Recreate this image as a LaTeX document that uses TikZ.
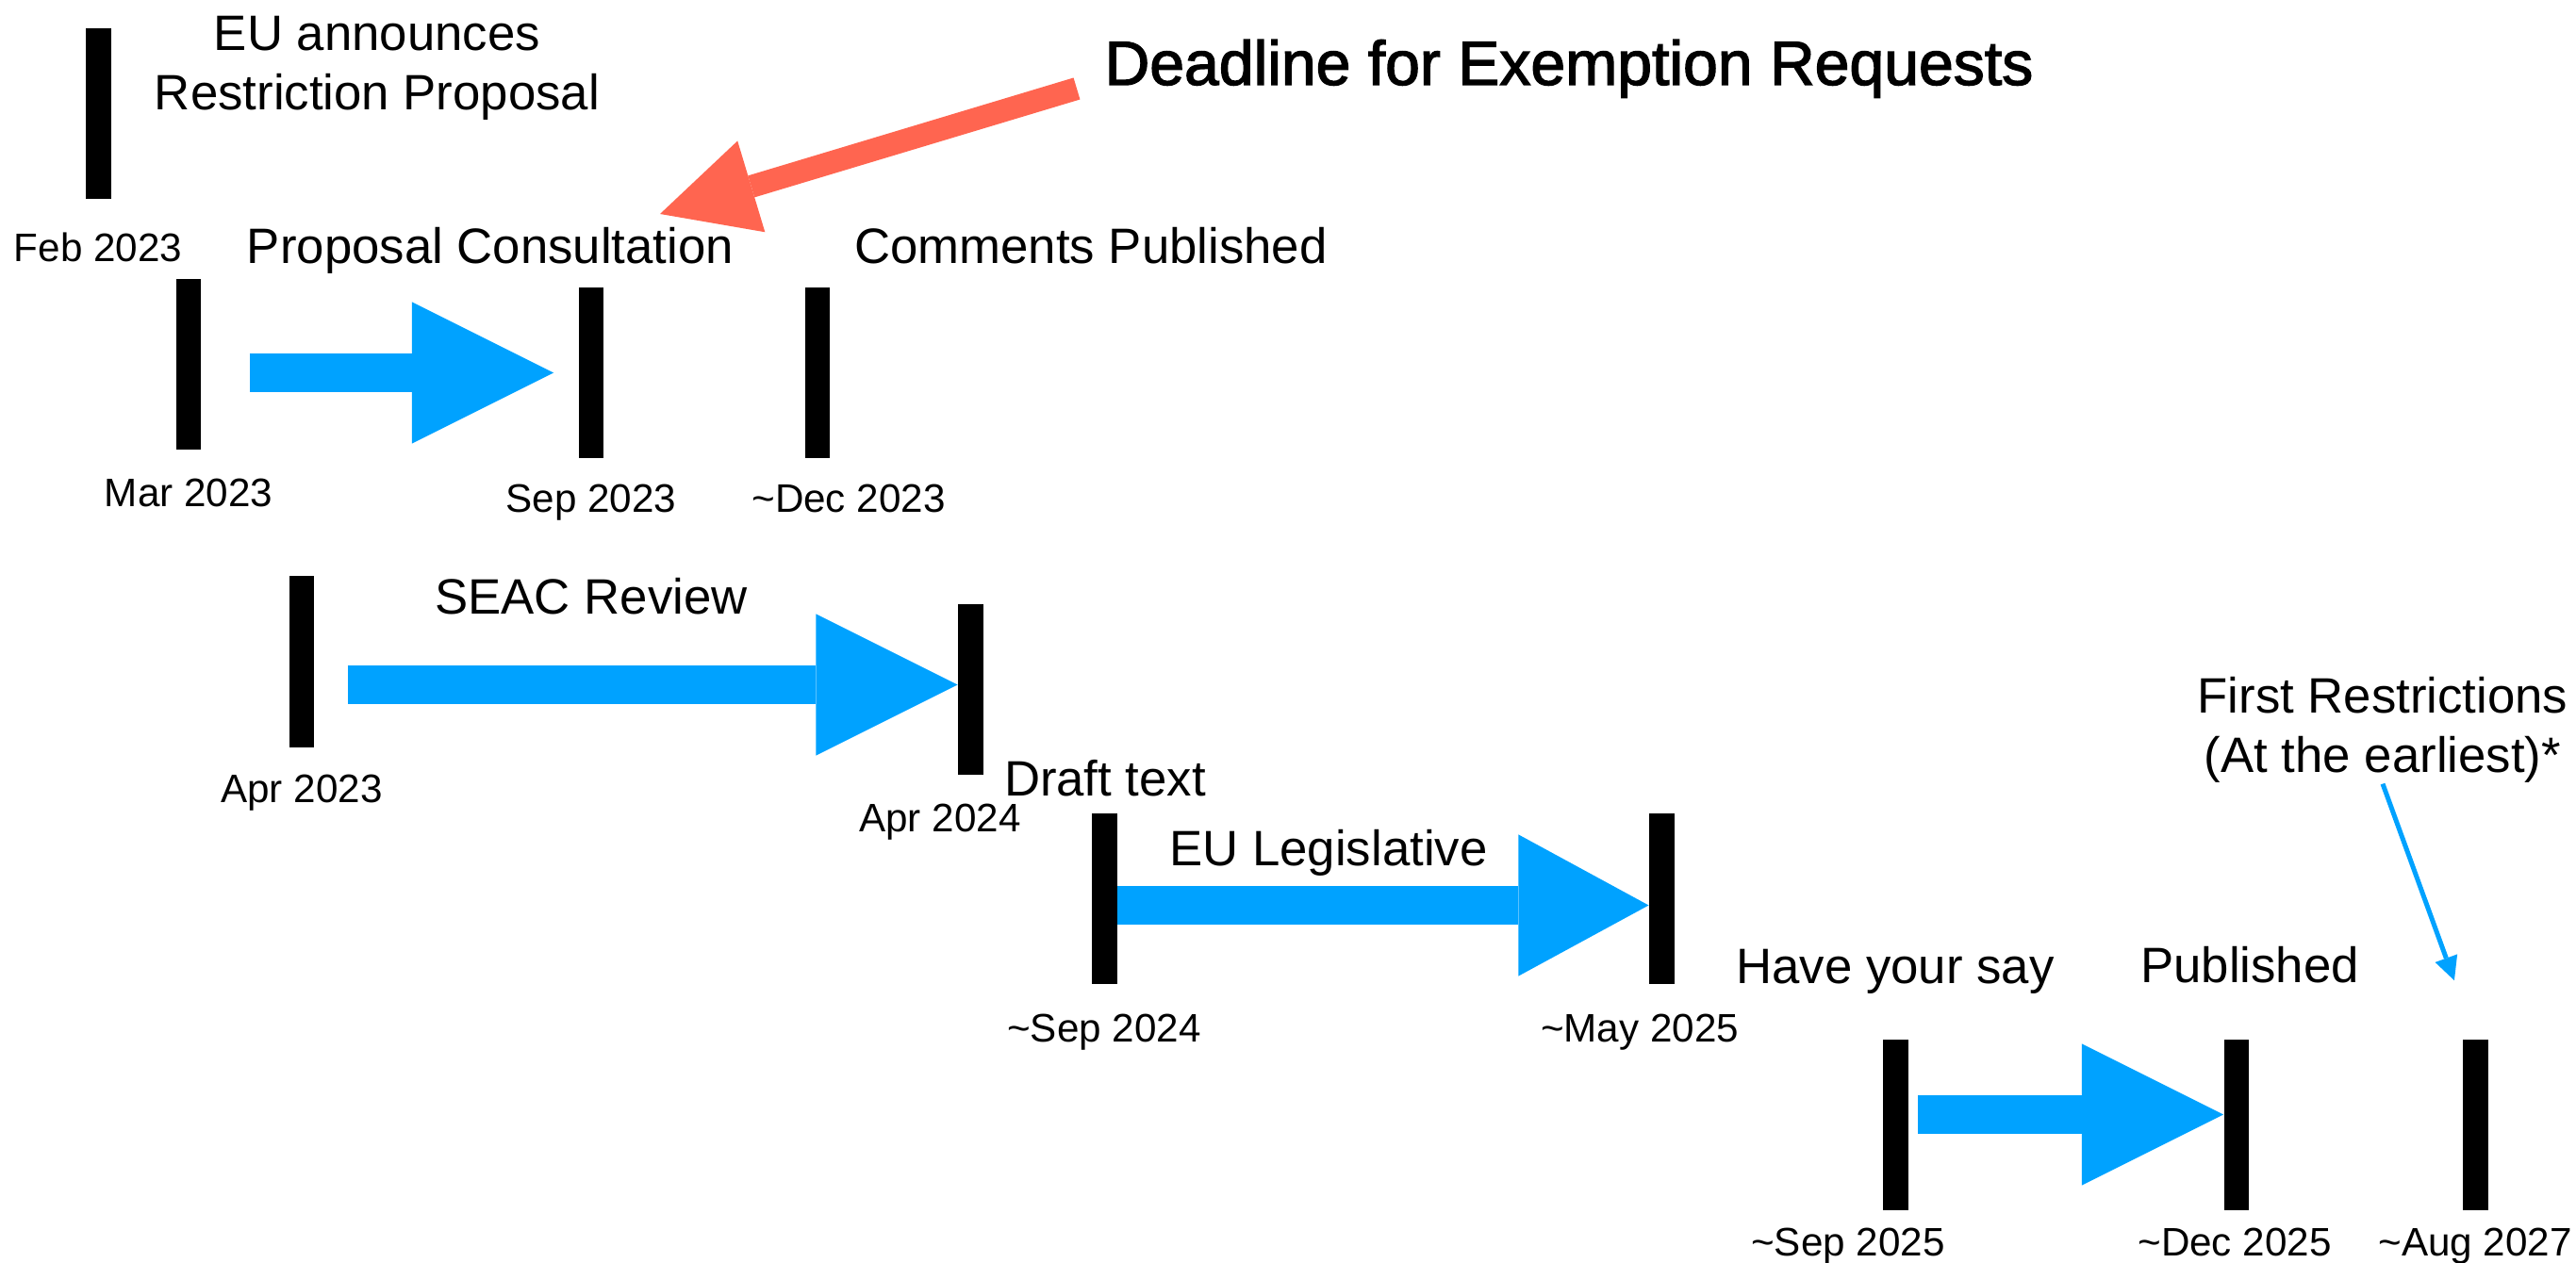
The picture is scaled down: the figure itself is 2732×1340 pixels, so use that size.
\documentclass[tikz,border=0pt]{standalone}
\usepackage{fontspec}
\setmainfont{Liberation Sans}
\newfontfamily\medfont{Liberation Sans}[FakeBold=2]
\usetikzlibrary{arrows.meta,calc}
\definecolor{stepblue}{RGB}{0,162,255}
\definecolor{deadred}{RGB}{255,101,80}
\tikzset{
  fat/.style={draw=stepblue, line width=0.4cm, -{Triangle[length=#1, width=1.5cm, line width=0pt]}},
  fat/.default=1.5cm
}

\begin{document}
\begin{tikzpicture}[x=0.01cm, y=-0.01cm,
  bar/.style={fill=black, inner sep=0pt, minimum width=0.265cm, minimum height=1.81cm},
  datelbl/.style={inner sep=0pt, anchor=base, font=\fontsize{12}{14}\selectfont},
  phase/.style={inner sep=0pt, anchor=base, align=center, font=\fontsize{15}{18}\selectfont}]
  \useasboundingbox (0,0) rectangle (2732,1340);

  \foreach \n/\x/\y in {feb23/104.5/120.5, mar23/200/386.5, sep23/627/395.5, dec23/867/395.5,
      apr23/320/702, apr24/1029.5/731.5, sep24/1171.5/953.5, may25/1762.5/953.5,
      sep25/2010.5/1193.5, dec25/2372/1193.5, aug27/2625.5/1193.5}
    \node[bar] (\n) at (\x,\y) {};

  \foreach \n/\x/\y/\txt in {feb23/104/278/Feb 2023, mar23/200/538/Mar 2023, sep23/627/544/Sep 2023,
      dec23/900/544/\textasciitilde Dec 2023, apr23/320/852/Apr 2023, apr24/997/883/Apr 2024,
      sep24/1171/1106/\textasciitilde Sep 2024, may25/1739/1106/\textasciitilde May 2025,
      sep25/1960/1333/\textasciitilde Sep 2025, dec25/2370/1333/\textasciitilde Dec 2025,
      aug27/2625/1333/\textasciitilde Aug 2027}
    \node[datelbl] (\n-d) at (\x,\y) {\txt};

  \node[phase] (announce) at (400,117) {EU announces\\Restriction Proposal};
  \node[phase, font=\fontsize{18.8}{22}\medfont] (deadline) at (1664,90) {Deadline for Exemption Requests};
  \node[phase] (consult) at (520,280) {Proposal Consultation};
  \node[phase] (comments) at (1157,280) {Comments Published};
  \node[phase] (seac) at (627,652) {SEAC Review};
  \node[phase] (draft) at (1172,845) {Draft text};
  \node[phase] (legis) at (1409,919) {EU Legislative};
  \node[phase] (say) at (2010,1044) {Have your say};
  \node[phase] (published) at (2386,1043) {Published};
  \node[phase] (firstr) at (2527,820) {First Restrictions\\(At the earliest)*};

  \draw[fat] ($(mar23.east |- sep23.west)+(51,0)$) -- ($(sep23.west)+(-26,0)$);
  \draw[fat] ($(apr23.east |- apr24.west)+(35,-5)$) -- ($(apr24.west)+(0,-5)$);
  \draw[fat=1.38cm] ($(sep24.east)+(0,7)$) -- ($(may25.west)+(0,7)$);
  \draw[fat] ($(sep25.east)+(10,-11)$) -- ($(dec25.west)+(0,-11)$);

  \coordinate (dl-tail) at (1142,94);
  \coordinate (dl-tip) at (700,227);
  \draw[deadred, line width=0.24cm, -{Triangle[length=1.01cm, width=1.01cm, line width=0pt]}] (dl-tail) -- (dl-tip);

  \draw[stepblue, line width=0.05cm, -{Triangle[length=0.25cm, width=0.25cm, line width=0pt]}, shorten >=0.66cm] (firstr.south) -- (aug27.north);
\end{tikzpicture}
\end{document}
